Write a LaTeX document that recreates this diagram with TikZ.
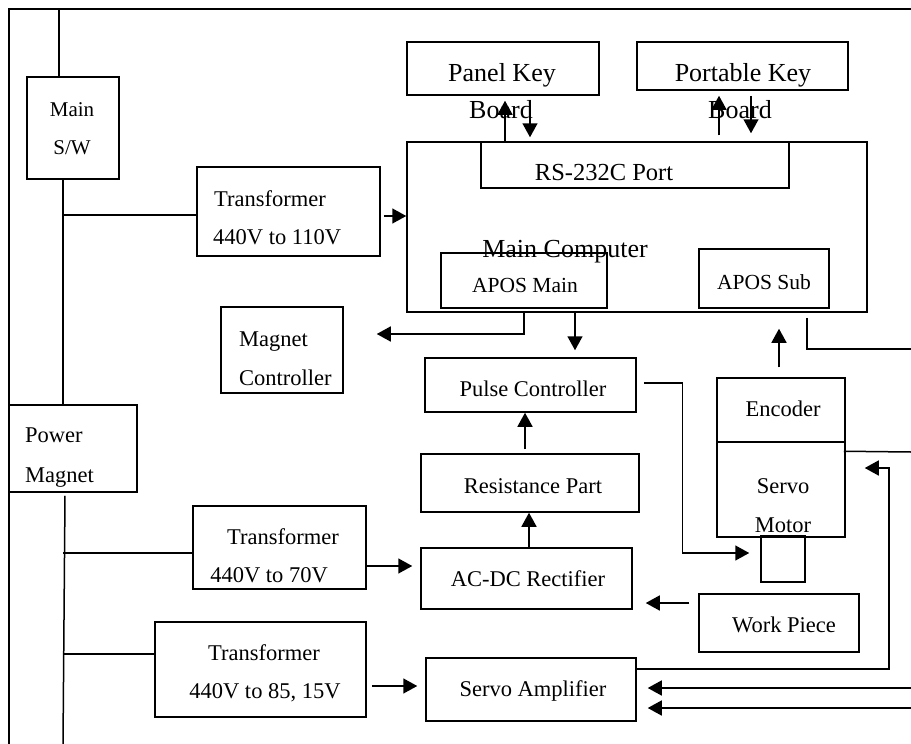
\documentclass[tikz,border=0pt]{standalone}
\usepackage{fontspec}
\setmainfont{Liberation Serif}
\usetikzlibrary{arrows.meta}

\begin{document}
\begin{tikzpicture}[
  x=1pt, y=-1pt,
  box/.style={draw, line width=1.5pt, inner sep=0pt},
  wire/.style={draw, line width=1.5pt},
  arr/.style={wire, -{Triangle[length=14pt, width=15pt]}},
  txt/.style={inner sep=0pt, text height=15pt, text depth=0pt,
    font=\fontsize{22.5}{27}\selectfont},
  bigtxt/.style={inner sep=0pt, text height=17pt, text depth=0pt,
    font=\fontsize{26}{31}\selectfont}
]
  \useasboundingbox (0,0) rectangle (911,744);

  % Frame and free line ends.
  \coordinate (frameBL) at (9,744);
  \coordinate (frameTL) at (9,9);
  \coordinate (frameTR) at (911,9);
  \coordinate (busA) at (63,215);
  \coordinate (busB) at (63,553);
  \coordinate (busC) at (63,654);
  \coordinate (busEnd) at (63,744);
  \coordinate (edgeA) at (911,349);
  \coordinate (edgeB) at (911,452);
  \coordinate (edgeC) at (911,688);
  \coordinate (edgeD) at (911,708);
  \draw[wire] (frameBL)--(frameTL)--(frameTR);

  % Power side.
  \node[box, minimum width=92, minimum height=102] (msw) at (73,128) {};
  \node[txt, font=\fontsize{21}{25}\selectfont] (msw-a) at (72,109) {Main};
  \node[txt, font=\fontsize{21}{25}\selectfont] (msw-b) at (72,147) {S/W};
  \node[box, minimum width=128, minimum height=87] (pwm) at (73,448.5) {};
  \node[txt, anchor=west] (pwm-a) at (25,435) {Power};
  \node[txt, anchor=west] (pwm-b) at (25,475) {Magnet};
  \draw[wire] ([xshift=-14pt]msw.north) -- ([xshift=-14pt]msw.north |- frameTL);
  \draw[wire] ([xshift=-10pt]msw.south) -- ([xshift=-10pt]pwm.north);
  \draw[wire] ([xshift=-8pt,yshift=-3pt]pwm.south) -- (busEnd);
  \draw[wire] (busA) -- (busA -| 197,0);

  % Transformers.
  \node[box, minimum width=183, minimum height=89] (tfA) at (288.5,211.5) {};
  \node[txt, anchor=west] (tfA-a) at (214,199) {Transformer};
  \node[txt, anchor=west] (tfA-b) at (213,237) {440V to 110V};
  \node[box, minimum width=173, minimum height=83] (tfB) at (279.5,547.5) {};
  \node[txt] (tfB-a) at (283,537) {Transformer};
  \node[txt] (tfB-b) at (269,575) {440V to 70V};
  \node[box, minimum width=211, minimum height=95] (tfC) at (260.5,669.5) {};
  \node[txt] (tfC-a) at (264,653) {Transformer};
  \node[txt] (tfC-b) at (265,691) {440V to 85, 15V};
  \draw[wire] (busB) -- (busB -| tfB.west);
  \draw[wire] (busC) -- (busC -| tfC.west);

  % Main computer and keyboards.
  \node[bigtxt] (comp-t) at (565,249) {Main Computer};
  \node[box, minimum width=460, minimum height=170] (comp) at (637,227) {};
  \node[box, minimum width=308, minimum height=46] (rs) at (635,165) {};
  \node[bigtxt, font=\fontsize{24.5}{29}\selectfont] (rs-t) at (604,172) {RS-232C Port};
  \node[box, minimum width=192, minimum height=53] (pkb) at (503,68.5) {};
  \node[bigtxt] (pkb-a) at (502,73) {Panel Key};
  \node[bigtxt] (pkb-b) at (501,110) {Board};
  \node[box, minimum width=211, minimum height=48] (ptb) at (742.5,66) {};
  \node[bigtxt] (ptb-a) at (743,73) {Portable Key};
  \node[bigtxt] (ptb-b) at (740,110) {Board};
  \node[box, minimum width=166, minimum height=55] (apm) at (524,280.5) {};
  \node[txt, font=\fontsize{21.5}{26}\selectfont] (apm-t) at (525,285) {APOS Main};
  \node[box, minimum width=130, minimum height=59] (aps) at (764,278.5) {};
  \node[txt, font=\fontsize{21.5}{26}\selectfont] (aps-t) at (764,282) {APOS Sub};
  \draw[arr] ([xshift=3pt,yshift=-4.5pt]tfA.east) -- ([yshift=-4.5pt]tfA.east -| comp.west);
  \draw[arr] ([xshift=2pt]pkb.south |- comp.north) -- ([xshift=2pt,yshift=-5pt]pkb.south);
  \draw[arr] ([xshift=27pt,yshift=-4pt]pkb.south) -- ([xshift=27pt,yshift=4pt]pkb.south |- comp.north);
  \draw[arr] ([xshift=-23.5pt,yshift=6pt]ptb.south |- comp.north) -- ([xshift=-23.5pt,yshift=-5pt]ptb.south);
  \draw[arr] ([xshift=8.5pt,yshift=-5pt]ptb.south) -- ([xshift=8.5pt,yshift=8pt]ptb.south |- comp.north);

  % Control chain.
  \node[box, minimum width=122, minimum height=86] (mgc) at (282,350) {};
  \node[txt, anchor=west] (mgc-a) at (239,339) {Magnet};
  \node[txt, anchor=west] (mgc-b) at (239,378) {Controller};
  \node[box, minimum width=211, minimum height=54] (plc) at (530.5,385) {};
  \node[txt] (plc-t) at (533,389) {Pulse Controller};
  \node[box, minimum width=218, minimum height=58] (res) at (530,483) {};
  \node[txt] (res-t) at (533,486) {Resistance Part};
  \node[box, minimum width=211, minimum height=61] (acdc) at (526.5,578.5) {};
  \node[txt] (acdc-t) at (528,579) {AC-DC Rectifier};
  \node[box, minimum width=210, minimum height=63] (sva) at (531,689.5) {};
  \node[txt] (sva-t) at (533,689) {Servo Amplifier};
  \draw[arr] (apm.south |- comp.south) |- ([xshift=33pt,yshift=16pt]mgc.east);
  \draw[arr] ([xshift=51pt]apm.south |- comp.south) -- ([xshift=44.5pt,yshift=7pt]plc.north);
  \draw[arr] ([xshift=-5pt,yshift=4pt]res.north) -- ([xshift=-5pt]res.north |- plc.south);
  \draw[arr] ([xshift=2.5pt]acdc.north) -- ([xshift=2.5pt]acdc.north |- res.south);
  \draw[arr] ([yshift=-18.5pt]tfB.east) -- ([xshift=-8pt,yshift=-18.5pt]tfB.east -| acdc.west);
  \draw[arr] ([xshift=5pt,yshift=-16.5pt]tfC.east) -- ([xshift=-8pt,yshift=-16.5pt]tfC.east -| sva.west);

  % Servo motor side.
  \node[box, minimum width=128, minimum height=64] (enc) at (781,410) {};
  \node[txt] (enc-t) at (783,409) {Encoder};
  \node[box, minimum width=128, minimum height=95] (mot) at (781,489.5) {};
  \node[txt] (mot-a) at (783,486) {Servo};
  \node[txt] (mot-b) at (783,525) {Motor};
  \node[box, minimum width=44, minimum height=46] (shaft) at (783,559) {};
  \node[box, minimum width=160, minimum height=58] (wkp) at (779,623) {};
  \node[txt] (wkp-t) at (784,625) {Work Piece};
  \draw[arr] ([xshift=-2pt,yshift=10pt]enc.north) -- ([xshift=-2pt,yshift=-16pt]enc.north |- comp.south);
  \draw[wire] ([xshift=-61pt,yshift=-5pt]comp.south east) |- (edgeA);
  \draw[wire] ([xshift=-2pt,yshift=-10pt]mot.north east) -- (edgeB);
  \draw[arr] ([xshift=7pt,yshift=2pt]plc.east) -| ([xshift=-78pt,yshift=6pt]shaft.west)
    -- ([xshift=-11pt,yshift=6pt]shaft.west);
  \draw[arr] ([yshift=20.5pt]sva.east) -| ([xshift=43pt,yshift=21.5pt]mot.east)
    -- ([xshift=19pt,yshift=21.5pt]mot.east);
  \draw[arr] (edgeC) -- ([xshift=11pt]sva.east |- edgeC);
  \draw[arr] (edgeD) -- ([xshift=11pt]sva.east |- edgeD);
  \draw[arr] ([xshift=-9pt,yshift=20pt]wkp.west) -- ([xshift=13pt,yshift=20pt]wkp.west -| acdc.east);
\end{tikzpicture}
\end{document}
